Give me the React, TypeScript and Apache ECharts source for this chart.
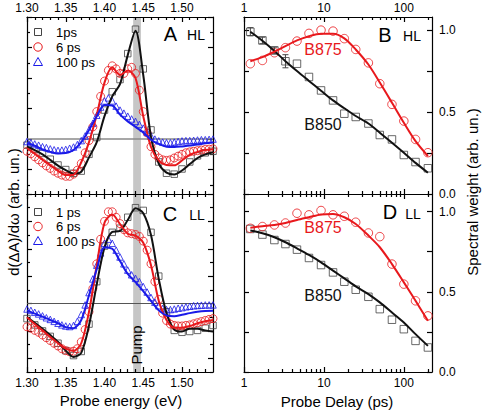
import React, { useEffect, useRef } from "react";
import * as echarts from "echarts";

const FONT = "'Liberation Sans', Arial, Helvetica, sans-serif";

// ---------- Probe energy grids (eV) ----------
const energyCoarse = [1.30, 1.31, 1.32, 1.33, 1.34, 1.35, 1.36, 1.37, 1.38, 1.39, 1.40, 1.41, 1.42, 1.43, 1.44, 1.45, 1.46, 1.47, 1.48, 1.49, 1.50, 1.51, 1.52, 1.53, 1.54];
const energyDense = [
  1.300, 1.305, 1.310, 1.315, 1.320, 1.325, 1.330, 1.335, 1.340, 1.345,
  1.350, 1.355, 1.360, 1.365, 1.370, 1.375, 1.380, 1.385, 1.390, 1.395,
  1.400, 1.405, 1.410, 1.415, 1.420, 1.425, 1.430, 1.435, 1.440, 1.445,
  1.450, 1.455, 1.460, 1.465, 1.470, 1.475, 1.480, 1.485, 1.490, 1.495,
  1.500, 1.505, 1.510, 1.515, 1.520, 1.525, 1.530, 1.535, 1.540,
];

// ---------- Panel A (HL) ----------
const hl1psFit = [-0.25, -0.36, -0.50, -0.68, -0.87, -1.02, -1.13, -1.07, -0.60, -0.10, 0.75, 1.40, 1.80, 2.75, 3.55, 2.10, 0.07, -0.80, -1.10, -1.16, -1.03, -0.82, -0.62, -0.50, -0.43];
const hl6psFit = [-0.30, -0.48, -0.68, -0.86, -1.04, -1.18, -1.17, -0.76, -0.10, 0.80, 1.85, 2.35, 2.10, 2.25, 2.00, 0.75, -0.26, -0.70, -0.85, -0.86, -0.70, -0.52, -0.42, -0.36, -0.33];
const hl100psFit = [-0.12, -0.22, -0.34, -0.42, -0.47, -0.46, -0.36, -0.10, 0.30, 0.75, 1.12, 1.10, 0.80, 0.58, 0.40, 0.22, -0.02, -0.16, -0.25, -0.26, -0.24, -0.21, -0.18, -0.14, -0.11];
const hl1psData = [-0.20, -0.33, -0.47, -0.66, -0.85, -1.00, -1.12, -1.05, -0.50, 0.05, 0.95, 1.55, 1.95, 2.80, 3.60, 2.30, 0.30, -0.75, -1.12, -1.15, -0.98, -0.75, -0.55, -0.45, -0.40];
const hl6psData = [
  -0.40, -0.48, -0.58, -0.68, -0.78, -0.88, -0.96, -1.05, -1.12, -1.18,
  -1.22, -1.22, -1.15, -1.02, -0.80, -0.45, -0.05, 0.40, 0.90, 1.40,
  1.90, 2.25, 2.40, 2.30, 2.15, 2.15, 2.30, 2.35, 2.15, 1.60,
  0.90, 0.20, -0.25, -0.50, -0.62, -0.68, -0.70, -0.68, -0.62, -0.56,
  -0.50, -0.45, -0.42, -0.40, -0.38, -0.36, -0.34, -0.33, -0.32,
];
const hl100psData = [
  -0.08, -0.12, -0.16, -0.20, -0.25, -0.28, -0.32, -0.35, -0.37, -0.36,
  -0.34, -0.30, -0.26, -0.18, -0.05, 0.10, 0.30, 0.52, 0.78, 1.05,
  1.25, 1.35, 1.25, 1.08, 0.95, 0.85, 0.75, 0.66, 0.58, 0.48,
  0.36, 0.22, 0.10, 0.00, -0.06, -0.10, -0.12, -0.12, -0.10, -0.08,
  -0.06, -0.05, -0.05, -0.04, -0.03, -0.02, -0.02, -0.01, 0.00,
];

// ---------- Panel C (LL) ----------
const ll1psFit = [-0.50, -0.70, -0.92, -1.15, -1.40, -1.72, -1.95, -1.80, -0.80, 0.70, 2.05, 2.62, 2.65, 3.05, 3.48, 3.30, 2.50, 0.90, -0.35, -0.95, -1.02, -0.92, -0.92, -0.98, -1.02];
const ll6psFit = [-0.50, -0.75, -0.98, -1.22, -1.45, -1.65, -1.73, -1.45, -0.30, 1.40, 2.95, 3.25, 2.90, 2.55, 2.48, 2.22, 1.40, 0.10, -0.60, -0.88, -0.88, -0.82, -0.72, -0.65, -0.60];
const ll100psFit = [-0.25, -0.37, -0.48, -0.60, -0.72, -0.86, -0.90, -0.60, 0.30, 1.25, 2.05, 2.00, 1.55, 1.08, 0.78, 0.45, 0.10, -0.25, -0.43, -0.46, -0.41, -0.35, -0.30, -0.27, -0.26];
const ll1psData = [-0.55, -0.78, -1.00, -1.20, -1.45, -1.72, -1.90, -1.75, -0.75, 0.80, 2.10, 2.60, 2.75, 3.15, 3.50, 3.40, 2.60, 1.00, -0.30, -0.98, -1.05, -1.02, -0.98, -0.90, -0.80];
const ll6psData = [
  -0.85, -0.90, -0.98, -1.05, -1.15, -1.25, -1.35, -1.45, -1.55, -1.65,
  -1.72, -1.76, -1.74, -1.65, -1.40, -0.95, -0.30, 0.55, 1.45, 2.35,
  3.00, 3.35, 3.35, 3.15, 2.92, 2.70, 2.58, 2.55, 2.52, 2.45,
  2.28, 1.95, 1.45, 0.80, 0.15, -0.35, -0.62, -0.75, -0.80, -0.82,
  -0.82, -0.80, -0.78, -0.74, -0.70, -0.66, -0.62, -0.58, -0.55,
];
const ll100psData = [
  -0.20, -0.25, -0.32, -0.38, -0.45, -0.52, -0.58, -0.65, -0.72, -0.78,
  -0.82, -0.84, -0.80, -0.65, -0.40, -0.05, 0.40, 0.90, 1.40, 1.85,
  2.20, 2.35, 2.20, 1.95, 1.70, 1.45, 1.22, 1.05, 0.92, 0.80,
  0.62, 0.42, 0.22, 0.05, -0.08, -0.18, -0.22, -0.22, -0.20, -0.17,
  -0.15, -0.12, -0.10, -0.08, -0.07, -0.06, -0.05, -0.05, -0.05,
];

// ---------- Panels B / D (spectral weight vs delay) ----------
const delays = [1.2, 1.7, 2.4, 3.3, 4.6, 6.5, 9.2, 13, 18, 25, 36, 50, 71, 100, 140, 200];
const hlB850 = [0.99, 0.937, 0.876, 0.81, 0.795, 0.714, 0.632, 0.571, 0.49, 0.47, 0.43, 0.36, 0.333, 0.238, 0.195, 0.157];
const hlB850Err = [0.025, 0.02, 0.02, 0.04, 0, 0, 0, 0, 0, 0, 0, 0, 0, 0, 0, 0];
const hlB875 = [0.795, 0.815, 0.862, 0.893, 0.933, 0.98, 1.0, 0.994, 0.948, 0.882, 0.80, 0.673, 0.547, 0.445, 0.333, 0.252];
const hlB850Fit = [0.99, 0.935, 0.873, 0.81, 0.75, 0.69, 0.63, 0.571, 0.523, 0.476, 0.43, 0.374, 0.313, 0.252, 0.19, 0.13];
const hlB875Fit = [0.81, 0.835, 0.868, 0.902, 0.937, 0.963, 0.978, 0.978, 0.95, 0.882, 0.79, 0.68, 0.557, 0.435, 0.323, 0.232];
const llB850 = [0.892, 0.857, 0.823, 0.798, 0.763, 0.711, 0.667, 0.621, 0.563, 0.513, 0.469, 0.392, 0.326, 0.267, 0.194, 0.153];
const llB875 = [0.896, 0.907, 0.917, 0.929, 0.99, 0.98, 1.007, 0.98, 0.971, 0.934, 0.867, 0.844, 0.673, 0.548, 0.444, 0.35];
const llB850Fit = [0.882, 0.865, 0.84, 0.809, 0.771, 0.73, 0.684, 0.632, 0.584, 0.534, 0.486, 0.434, 0.371, 0.309, 0.236, 0.163];
const llB875Fit = [0.9, 0.909, 0.917, 0.929, 0.948, 0.965, 0.982, 0.986, 0.965, 0.923, 0.851, 0.778, 0.673, 0.559, 0.444, 0.319];

// ---------- Ticks ----------
const energyMajor = [1.30, 1.35, 1.40, 1.45, 1.50];
const energyMinor = [1.31, 1.32, 1.33, 1.34, 1.36, 1.37, 1.38, 1.39, 1.41, 1.42, 1.43, 1.44, 1.46, 1.47, 1.48, 1.49, 1.51, 1.52, 1.53];
const delayMajor = [1, 10, 100];
const delayMinor = [2, 3, 4, 5, 6, 7, 8, 9, 20, 30, 40, 50, 60, 70, 80, 90, 200];
const aMajor = [-1, 0, 1, 2, 3, 4];
const aMinor = [-1.5, -0.5, 0.5, 1.5, 2.5, 3.5];
const cMajor = [-2, -1, 0, 1, 2, 3, 4];
const cMinor = [-2.5, -1.5, -0.5, 0.5, 1.5, 2.5, 3.5];
const weightTicks = [0, 0.25, 0.5, 0.75, 1.0];
const weightLabels = [0, 0.5, 1.0];
const pumpBand = [1.437, 1.447];

const BLACK = "#111111";
const SQ = "#444444";
const RED = "#e8181c";
const BLUE = "#1a1ae8";
const LINE = { color: "#000", width: 1.2 };

function pairs(xs: number[], ys: number[]) {
  return ys.map((y, i) => [xs[i], y]);
}

function tickAxis(grid: number, position: string, type: string, min: number, max: number, ticks: number[], len: number, line: boolean, labels?: number[], fmt?: (v: number) => string, margin = 4) {
  const a: any = {
    type,
    gridIndex: grid,
    position,
    min,
    max,
    axisLine: { show: line, onZero: false, lineStyle: LINE },
    axisTick: { show: true, inside: true, length: len, customValues: ticks, lineStyle: LINE },
    axisLabel: labels
      ? { show: true, customValues: labels, color: "#000", fontSize: 12, fontFamily: FONT, margin, ...(fmt ? { formatter: fmt } : {}) }
      : { show: false },
    splitLine: { show: false },
    minorTick: { show: false },
    silent: true,
  };
  if (type === "log") a.logBase = 10;
  return a;
}

function buildOption() {
  const f2 = (v: number) => v.toFixed(2);
  const f1 = (v: number) => v.toFixed(1);
  const E0 = 1.30, E1 = 1.54, T0 = 1, T1 = 225;

  const xAxis = [
    // A: 0-3
    tickAxis(0, "bottom", "value", E0, E1, energyMajor, 5, true),
    tickAxis(0, "bottom", "value", E0, E1, energyMinor, 3, false),
    tickAxis(0, "top", "value", E0, E1, energyMajor, 5, true, energyMajor, f2, 3),
    tickAxis(0, "top", "value", E0, E1, energyMinor, 3, false),
    // C: 4-7
    tickAxis(1, "bottom", "value", E0, E1, energyMajor, 5, true, energyMajor, f2, 5),
    tickAxis(1, "bottom", "value", E0, E1, energyMinor, 3, false),
    tickAxis(1, "top", "value", E0, E1, energyMajor, 5, true),
    tickAxis(1, "top", "value", E0, E1, energyMinor, 3, false),
    // B: 8-11
    tickAxis(2, "bottom", "log", T0, T1, delayMajor, 5, true),
    tickAxis(2, "bottom", "log", T0, T1, delayMinor, 3, false),
    tickAxis(2, "top", "log", T0, T1, delayMajor, 5, true, delayMajor, undefined, 3),
    tickAxis(2, "top", "log", T0, T1, delayMinor, 3, false),
    // D: 12-15
    tickAxis(3, "bottom", "log", T0, T1, delayMajor, 5, true, delayMajor, undefined, 5),
    tickAxis(3, "bottom", "log", T0, T1, delayMinor, 3, false),
    tickAxis(3, "top", "log", T0, T1, delayMajor, 5, true),
    tickAxis(3, "top", "log", T0, T1, delayMinor, 3, false),
  ];

  const yAxis = [
    // A: 0-3
    tickAxis(0, "left", "value", -1.8, 4.0, aMajor, 5, true),
    tickAxis(0, "left", "value", -1.8, 4.0, aMinor, 3, false),
    tickAxis(0, "right", "value", -1.8, 4.0, aMajor, 5, true),
    tickAxis(0, "right", "value", -1.8, 4.0, aMinor, 3, false),
    // C: 4-7
    tickAxis(1, "left", "value", -2.5, 4.0, cMajor, 5, true),
    tickAxis(1, "left", "value", -2.5, 4.0, cMinor, 3, false),
    tickAxis(1, "right", "value", -2.5, 4.0, cMajor, 5, true),
    tickAxis(1, "right", "value", -2.5, 4.0, cMinor, 3, false),
    // B: 8-9
    tickAxis(2, "left", "value", 0, 1.08, weightTicks, 5, true),
    tickAxis(2, "right", "value", 0, 1.08, weightTicks, 5, true, weightLabels, f1, 7),
    // D: 10-11
    tickAxis(3, "left", "value", 0, 1.11, weightTicks, 5, true),
    tickAxis(3, "right", "value", 0, 1.11, weightTicks, 5, true, weightLabels, f1, 7),
  ];

  const series: any[] = [];

  const leftPanel = (xi: number, yi: number, fits: number[][], sq: number[], circ: number[], tri: number[], zeroColor: string, zeroWidth: number) => {
    series.push({
      type: "scatter", xAxisIndex: xi, yAxisIndex: yi, z: 2, silent: true,
      data: pairs(energyCoarse, sq), symbol: "rect", symbolSize: 6.5,
      itemStyle: { color: "rgba(0,0,0,0)", borderColor: SQ, borderWidth: 1 },
      markArea: {
        silent: true, z: 0,
        itemStyle: { color: "#c6c6c6" },
        data: [[{ xAxis: pumpBand[0] }, { xAxis: pumpBand[1] }]],
      },
      markLine: {
        silent: true, z: 1, symbol: ["none", "none"], label: { show: false },
        lineStyle: { color: zeroColor, width: zeroWidth, type: "solid" },
        data: [{ yAxis: 0 }],
      },
    });
    series.push({
      type: "scatter", xAxisIndex: xi, yAxisIndex: yi, z: 2, silent: true,
      data: pairs(energyDense, circ), symbol: "circle", symbolSize: 8,
      itemStyle: { color: "rgba(0,0,0,0)", borderColor: RED, borderWidth: 1 },
    });
    series.push({
      type: "scatter", xAxisIndex: xi, yAxisIndex: yi, z: 2, silent: true,
      data: pairs(energyDense, tri), symbol: "triangle", symbolSize: 6.5,
      itemStyle: { color: "rgba(0,0,0,0)", borderColor: BLUE, borderWidth: 1 },
    });
    const colors = [BLACK, RED, BLUE];
    fits.forEach((fit, k) => {
      series.push({
        type: "line", xAxisIndex: xi, yAxisIndex: yi, z: 4, silent: true,
        data: pairs(energyCoarse, fit), smooth: 0.3, showSymbol: false, symbol: "none",
        lineStyle: { color: colors[k], width: 2 },
      });
    });
  };

  leftPanel(0, 0, [hl1psFit, hl6psFit, hl100psFit], hl1psData, hl6psData, hl100psData, "#8a8a8a", 1.5);
  leftPanel(4, 4, [ll1psFit, ll6psFit, ll100psFit], ll1psData, ll6psData, ll100psData, "#555555", 1);

  const rightPanel = (xi: number, yi: number, b850: number[], b875: number[], f850: number[], f875: number[], err?: number[]) => {
    series.push({
      type: "scatter", xAxisIndex: xi, yAxisIndex: yi, z: 2, silent: true,
      data: pairs(delays, b850), symbol: "rect", symbolSize: 7.5,
      itemStyle: { color: "rgba(0,0,0,0)", borderColor: SQ, borderWidth: 1 },
    });
    series.push({
      type: "scatter", xAxisIndex: xi, yAxisIndex: yi, z: 2, silent: true,
      data: pairs(delays, b875), symbol: "circle", symbolSize: 8.5,
      itemStyle: { color: "rgba(0,0,0,0)", borderColor: RED, borderWidth: 1 },
    });
    if (err) {
      series.push({
        type: "custom", xAxisIndex: xi, yAxisIndex: yi, z: 3, silent: true,
        data: delays.map((t, i) => [t, b850[i], err[i]]),
        renderItem: (params: any, api: any) => {
          const x = api.value(0), y = api.value(1), e = api.value(2);
          if (!e) return null;
          const top = api.coord([x, y + e]);
          const bot = api.coord([x, y - e]);
          const st = { stroke: SQ, lineWidth: 1 };
          return {
            type: "group",
            children: [
              { type: "line", shape: { x1: top[0], y1: top[1], x2: bot[0], y2: bot[1] }, style: st },
              { type: "line", shape: { x1: top[0] - 3, y1: top[1], x2: top[0] + 3, y2: top[1] }, style: st },
              { type: "line", shape: { x1: bot[0] - 3, y1: bot[1], x2: bot[0] + 3, y2: bot[1] }, style: st },
            ],
          };
        },
      });
    }
    series.push({
      type: "line", xAxisIndex: xi, yAxisIndex: yi, z: 4, silent: true,
      data: pairs(delays, f850), smooth: 0.3, showSymbol: false, symbol: "none",
      lineStyle: { color: BLACK, width: 2 },
    });
    series.push({
      type: "line", xAxisIndex: xi, yAxisIndex: yi, z: 4, silent: true,
      data: pairs(delays, f875), smooth: 0.3, showSymbol: false, symbol: "none",
      lineStyle: { color: RED, width: 2 },
    });
  };

  rightPanel(8, 8, hlB850, hlB875, hlB850Fit, hlB875Fit, hlB850Err);
  rightPanel(12, 10, llB850, llB875, llB850Fit, llB875Fit);

  const txt = (x: number, y: number, text: string, size: number, color = "#000", align = "center", rotation = 0) => ({
    type: "text", x, y, rotation, silent: true, z: 100,
    style: {
      text, fontSize: size, fontFamily: FONT, fill: color,
      textAlign: align, textVerticalAlign: "middle", align, verticalAlign: "middle",
    },
  });

  const legend = (cy: number[], labels: string[]) => [
    { type: "rect", silent: true, z: 100, shape: { x: 34.5, y: cy[0] - 3.5, width: 7, height: 7 }, style: { fill: "none", stroke: SQ, lineWidth: 1 } },
    { type: "circle", silent: true, z: 100, shape: { cx: 38, cy: cy[1], r: 4.2 }, style: { fill: "none", stroke: RED, lineWidth: 1 } },
    { type: "polygon", silent: true, z: 100, shape: { points: [[38, cy[2] - 4.5], [42.5, cy[2] + 3.5], [33.5, cy[2] + 3.5]] }, style: { fill: "none", stroke: BLUE, lineWidth: 1 } },
    txt(56, cy[0], labels[0], 13, "#000", "left"),
    txt(56, cy[1], labels[1], 13, "#000", "left"),
    txt(56, cy[2], labels[2], 13, "#000", "left"),
  ];

  const graphic = [
    ...legend([32, 47, 62], ["1ps", "6 ps", "100 ps"]),
    ...legend([212, 226.5, 241], ["1 ps", "6 ps", "100 ps"]),
    txt(170.5, 34, "A", 20),
    txt(196, 35, "HL", 14),
    txt(170, 214, "C", 20),
    txt(197, 215, "LL", 14),
    txt(385, 35, "B", 20),
    txt(412, 36, "HL", 14),
    txt(390, 212, "D", 20),
    txt(413, 214, "LL", 14),
    txt(323, 49, "B875", 16, RED),
    txt(323, 124, "B850", 16, BLACK),
    txt(323, 227, "B875", 16, RED),
    txt(323, 295, "B850", 16, BLACK),
    txt(136, 345, "Pump", 15, "#000", "center", Math.PI / 2),
    txt(121, 400, "Probe energy (eV)", 15),
    txt(337, 401, "Probe Delay (ps)", 15),
    txt(13, 212, "d(ΔA)/dω (arb. un.)", 15, "#000", "center", Math.PI / 2),
    txt(472, 192, "Spectral weight (arb. un.)", 15, "#000", "center", Math.PI / 2),
  ];

  return {
    animation: false,
    backgroundColor: "#fff",
    textStyle: { fontFamily: FONT },
    grid: [
      { left: 27, top: 17, width: 186, height: 177 },
      { left: 27, top: 194, width: 186, height: 178 },
      { left: 244, top: 17, width: 188, height: 177 },
      { left: 244, top: 194, width: 188, height: 178 },
    ],
    xAxis,
    yAxis,
    series,
    graphic,
  };
}

export default function App() {
  const ref = useRef<HTMLDivElement>(null);
  useEffect(() => {
    document.body.style.margin = "0";
    const chart = echarts.init(ref.current!, null, { renderer: "svg" });
    chart.setOption(buildOption() as any);
    return () => chart.dispose();
  }, []);
  return <div ref={ref} style={{ width: 484, height: 414 }} />;
}
